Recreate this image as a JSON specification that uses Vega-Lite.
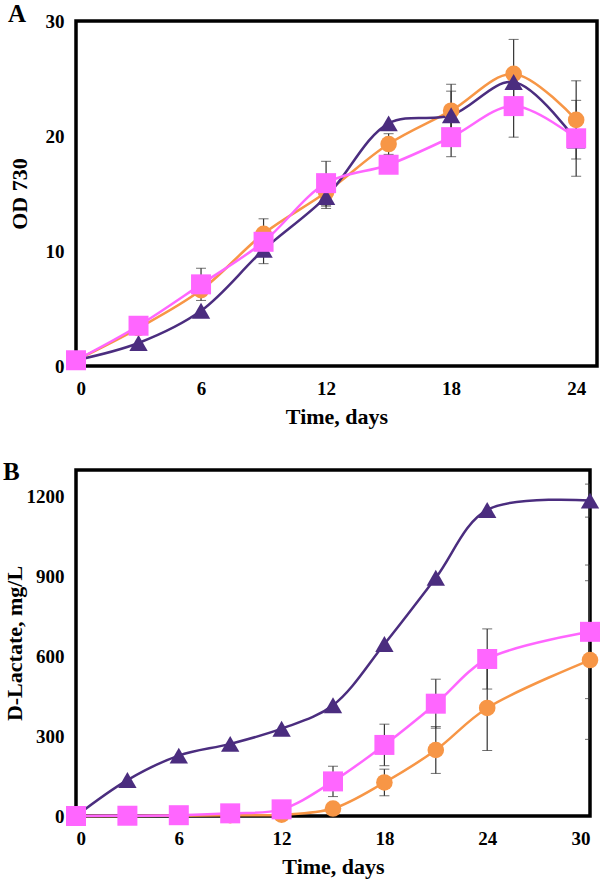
{
  "$schema": "https://vega.github.io/schema/vega-lite/v6.json",
  "padding": {"left": 1, "top": 0, "right": 2, "bottom": 2},
  "config": {
    "view": {"stroke": "black", "strokeWidth": 3.5},
    "font": "Liberation Serif",
    "axis": {
      "ticks": false, "grid": false, "domain": false,
      "labelFont": "Liberation Serif", "labelFontWeight": "bold", "labelFontSize": 19, "labelColor": "black",
      "titleFont": "Liberation Serif", "titleFontWeight": "bold", "titleFontSize": 22, "titleColor": "black"
    },
    "title": {"font": "Liberation Serif", "fontWeight": "bold", "fontSize": 25, "color": "black", "anchor": "start", "frame": "bounds"}
  },
  "data": {"values": [
    {"panel":"A","series":"c","day":0,"value":0.5,"err":null},
    {"panel":"A","series":"c","day":3,"value":3.3,"err":null},
    {"panel":"A","series":"c","day":6,"value":6.6,"err":null},
    {"panel":"A","series":"c","day":9,"value":11.5,"err":1.3},
    {"panel":"A","series":"c","day":12,"value":15.1,"err":1.4},
    {"panel":"A","series":"c","day":15,"value":19.3,"err":0.9},
    {"panel":"A","series":"c","day":18,"value":22.2,"err":2.3},
    {"panel":"A","series":"c","day":21,"value":25.4,"err":3.0},
    {"panel":"A","series":"c","day":24,"value":21.4,"err":3.4},
    {"panel":"A","series":"t","day":0,"value":0.5,"err":null},
    {"panel":"A","series":"t","day":3,"value":2.0,"err":null},
    {"panel":"A","series":"t","day":6,"value":4.8,"err":null},
    {"panel":"A","series":"t","day":9,"value":10.1,"err":1.2},
    {"panel":"A","series":"t","day":12,"value":14.7,"err":0.8},
    {"panel":"A","series":"t","day":15,"value":21.1,"err":null},
    {"panel":"A","series":"t","day":18,"value":21.8,"err":2.1},
    {"panel":"A","series":"t","day":21,"value":24.7,"err":null},
    {"panel":"A","series":"t","day":24,"value":19.6,"err":null},
    {"panel":"A","series":"s","day":0,"value":0.5,"err":null},
    {"panel":"A","series":"s","day":3,"value":3.5,"err":null},
    {"panel":"A","series":"s","day":6,"value":7.1,"err":1.4},
    {"panel":"A","series":"s","day":9,"value":10.8,"err":null},
    {"panel":"A","series":"s","day":12,"value":15.9,"err":1.9},
    {"panel":"A","series":"s","day":15,"value":17.5,"err":null},
    {"panel":"A","series":"s","day":18,"value":19.9,"err":1.7},
    {"panel":"A","series":"s","day":21,"value":22.6,"err":2.7},
    {"panel":"A","series":"s","day":24,"value":19.8,"err":3.3},
    {"panel":"B","series":"c","day":0,"value":0,"err":null},
    {"panel":"B","series":"c","day":3,"value":0,"err":null},
    {"panel":"B","series":"c","day":6,"value":1,"err":null},
    {"panel":"B","series":"c","day":9,"value":3,"err":null},
    {"panel":"B","series":"c","day":12,"value":5,"err":null},
    {"panel":"B","series":"c","day":15,"value":28,"err":null},
    {"panel":"B","series":"c","day":18,"value":126,"err":50},
    {"panel":"B","series":"c","day":21,"value":248,"err":88},
    {"panel":"B","series":"c","day":24,"value":406,"err":160},
    {"panel":"B","series":"c","day":30,"value":586,"err":298},
    {"panel":"B","series":"t","day":0,"value":0,"err":null},
    {"panel":"B","series":"t","day":3,"value":135,"err":null},
    {"panel":"B","series":"t","day":6,"value":227,"err":null},
    {"panel":"B","series":"t","day":9,"value":271,"err":null},
    {"panel":"B","series":"t","day":12,"value":328,"err":null},
    {"panel":"B","series":"t","day":15,"value":416,"err":null},
    {"panel":"B","series":"t","day":18,"value":646,"err":null},
    {"panel":"B","series":"t","day":21,"value":895,"err":null},
    {"panel":"B","series":"t","day":24,"value":1150,"err":null},
    {"panel":"B","series":"t","day":30,"value":1185,"err":62},
    {"panel":"B","series":"s","day":0,"value":0,"err":null},
    {"panel":"B","series":"s","day":3,"value":1,"err":null},
    {"panel":"B","series":"s","day":6,"value":3,"err":null},
    {"panel":"B","series":"s","day":9,"value":10,"err":null},
    {"panel":"B","series":"s","day":12,"value":25,"err":null},
    {"panel":"B","series":"s","day":15,"value":130,"err":57},
    {"panel":"B","series":"s","day":18,"value":267,"err":78},
    {"panel":"B","series":"s","day":21,"value":422,"err":92},
    {"panel":"B","series":"s","day":24,"value":590,"err":113},
    {"panel":"B","series":"s","day":30,"value":692,"err":251}
  ]},
  "spacing": 29,
  "vconcat": [
    {
      "title": {"text": "A", "offset": -15},
      "width": 521, "height": 345,
      "transform": [{"filter": "datum.panel === 'A'"}],
      "encoding": {
        "x": {"field": "day", "type": "quantitative", "scale": {"domain": [0, 25], "nice": false},
              "axis": {"title": "Time, days", "values": [0, 6, 12, 18, 24], "labelPadding": 13, "titlePadding": 8}},
        "y": {"field": "value", "type": "quantitative", "scale": {"domain": [0, 30], "nice": false},
              "axis": {"title": "OD 730", "values": [0, 10, 20, 30], "labelPadding": 12, "titlePadding": 14}}
      },
      "layer": [
        {
          "transform": [{"filter": "isValid(datum.err)"}],
          "mark": {"type": "errorbar", "clip": true, "ticks": {"size": 10, "color": "#333333", "strokeWidth": 1.2}, "rule": {"color": "#333333", "strokeWidth": 1.2}},
          "encoding": {"yError": {"field": "err"}}
        },
        {
          "mark": {"type": "line", "interpolate": "catmull-rom", "strokeWidth": 2.5},
          "encoding": {
            "color": {"field": "series", "type": "nominal", "scale": {"domain": ["c", "t", "s"], "range": ["#F79646", "#4B2D7F", "#FF66FF"]}, "legend": null}
          }
        },
        {
          "mark": {"type": "point", "filled": true, "opacity": 1},
          "encoding": {
            "color": {"field": "series", "type": "nominal", "scale": {"domain": ["c", "t", "s"], "range": ["#F79646", "#4B2D7F", "#FF66FF"]}, "legend": null},
            "shape": {"field": "series", "type": "nominal", "scale": {"domain": ["c", "t", "s"], "range": ["circle", "triangle-up", "square"]}, "legend": null},
            "size": {"field": "series", "type": "nominal", "scale": {"domain": ["c", "t", "s"], "range": [275, 400, 245]}, "legend": null}
          }
        }
      ]
    },
    {
      "title": {"text": "B", "offset": -15},
      "width": 514, "height": 346,
      "transform": [{"filter": "datum.panel === 'B'"}],
      "encoding": {
        "x": {"field": "day", "type": "quantitative", "scale": {"domain": [0, 30], "nice": false},
              "axis": {"title": "Time, days", "values": [0, 6, 12, 18, 24, 30], "labelPadding": 13, "titlePadding": 8}},
        "y": {"field": "value", "type": "quantitative", "scale": {"domain": [0, 1300], "nice": false},
              "axis": {"title": "D-Lactate, mg/L", "values": [0, 300, 600, 900, 1200], "format": "d", "labelPadding": 12, "titlePadding": 0}}
      },
      "layer": [
        {
          "transform": [{"filter": "isValid(datum.err)"}],
          "mark": {"type": "errorbar", "clip": true, "ticks": {"size": 10, "color": "#333333", "strokeWidth": 1.2}, "rule": {"color": "#333333", "strokeWidth": 1.2}},
          "encoding": {"yError": {"field": "err"}}
        },
        {
          "mark": {"type": "line", "interpolate": "catmull-rom", "strokeWidth": 2.5},
          "encoding": {
            "color": {"field": "series", "type": "nominal", "scale": {"domain": ["c", "t", "s"], "range": ["#F79646", "#4B2D7F", "#FF66FF"]}, "legend": null}
          }
        },
        {
          "mark": {"type": "point", "filled": true, "opacity": 1},
          "encoding": {
            "color": {"field": "series", "type": "nominal", "scale": {"domain": ["c", "t", "s"], "range": ["#F79646", "#4B2D7F", "#FF66FF"]}, "legend": null},
            "shape": {"field": "series", "type": "nominal", "scale": {"domain": ["c", "t", "s"], "range": ["circle", "triangle-up", "square"]}, "legend": null},
            "size": {"field": "series", "type": "nominal", "scale": {"domain": ["c", "t", "s"], "range": [275, 400, 245]}, "legend": null}
          }
        }
      ]
    }
  ]
}
